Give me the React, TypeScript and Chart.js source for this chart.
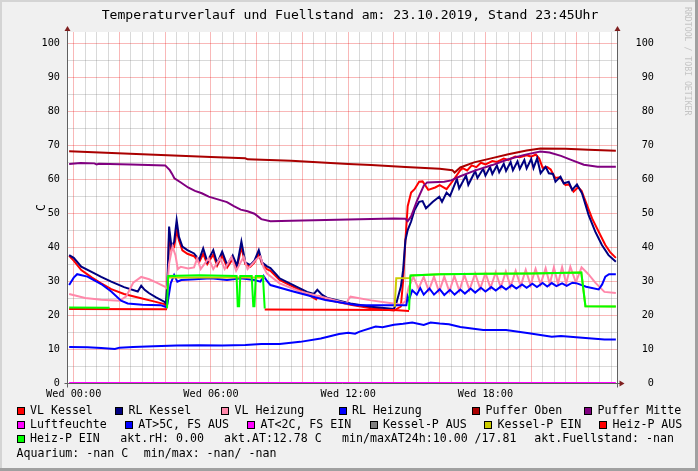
import React, { useEffect, useRef } from "react";
import { Chart, registerables } from "chart.js";

Chart.register(...registerables);

const FONT = "'DejaVu Sans Mono', 'Liberation Mono', monospace";

// ---------- texts ----------
const titleText = "Temperaturverlauf und Fuellstand am: 23.10.2019, Stand 23:45Uhr";
const unitLabel = "C";
const watermarkText = "RRDTOOL / TOBI OETIKER";

// ---------- axes ----------
const X_MIN = -0.25;
const X_MAX = 23.75;
const Y_MIN = 0;
const Y_MAX = 103.24;
const xGridHours = [
  0, 0.5, 1, 1.5, 2, 2.5, 3, 3.5, 4, 4.5, 5, 5.5, 6, 6.5, 7, 7.5, 8, 8.5, 9, 9.5, 10, 10.5, 11, 11.5,
  12, 12.5, 13, 13.5, 14, 14.5, 15, 15.5, 16, 16.5, 17, 17.5, 18, 18.5, 19, 19.5, 20, 20.5, 21, 21.5,
  22, 22.5, 23, 23.5,
];
const xLabelHours = [0, 6, 12, 18];
const xLabelTexts = ["Wed 00:00", "Wed 06:00", "Wed 12:00", "Wed 18:00"];
const yGridValues = [0, 5, 10, 15, 20, 25, 30, 35, 40, 45, 50, 55, 60, 65, 70, 75, 80, 85, 90, 95, 100];
const yLabelValues = [0, 10, 20, 30, 40, 50, 60, 70, 80, 90, 100];

// ---------- series: [hour, value] ----------
const vlKessel = [
  [-0.2, 37.4], [0, 36.0], [0.33, 33.2], [0.8, 31.0], [1.2, 29.3], [1.64, 27.6], [2.2, 26.2], [2.9, 25.0],
  [3.5, 24.0], [3.96, 23.2], [4.05, 22.5], [4.1, 28.0], [4.17, 44.0], [4.27, 39.0], [4.39, 40.0], [4.5, 45.0],
  [4.6, 42.0], [4.75, 39.0], [4.97, 38.0], [5.26, 37.3], [5.48, 35.5], [5.66, 38.0], [5.84, 35.0], [6.1, 37.8],
  [6.27, 34.5], [6.49, 37.5], [6.71, 34.0], [6.95, 36.5], [7.14, 34.0], [7.33, 40.0], [7.5, 35.0], [7.72, 34.2],
  [7.9, 35.5], [8.09, 38.0], [8.23, 35.0], [8.45, 33.5], [8.6, 33.0], [9.0, 30.3], [9.6, 28.3], [10.2, 26.2],
  [10.6, 24.6], [10.7, 25.6], [11.1, 24.5], [12.1, 23.0], [13.0, 22.0], [14.0, 21.3], [14.3, 22.5], [14.4, 30.0],
  [14.5, 42.0], [14.6, 52.0], [14.75, 56.0], [14.9, 57.0], [15.1, 59.2], [15.25, 59.3], [15.5, 56.8], [15.8, 57.5],
  [16.0, 58.2], [16.3, 57.0], [16.6, 59.7], [16.9, 62.6], [17.0, 63.2], [17.2, 62.5], [17.4, 64.0], [17.6, 63.5],
  [17.8, 64.8], [18.0, 64.3], [18.3, 65.3], [18.5, 65.0], [18.8, 66.0], [19.0, 65.6], [19.3, 66.6], [19.5, 66.4],
  [19.8, 67.0], [20.0, 66.6], [20.2, 67.2], [20.35, 66.0], [20.5, 63.3], [20.7, 63.5], [20.85, 62.8], [21.05, 60.3],
  [21.25, 60.5], [21.5, 58.2], [21.65, 58.5], [21.85, 56.3], [22.05, 57.6], [22.2, 56.5], [22.4, 53.0], [22.66, 48.4],
  [22.95, 44.5], [23.24, 40.6], [23.45, 38.5], [23.7, 36.8],
];

const rlKessel = [
  [-0.2, 37.6], [0, 36.8], [0.33, 34.2], [0.8, 32.6], [1.2, 31.2], [1.64, 29.8], [2.2, 28.2], [2.8, 26.9],
  [2.95, 28.6], [3.1, 27.4], [3.3, 26.4], [3.6, 25.2], [3.96, 23.9], [4.03, 23.4], [4.1, 30.3], [4.17, 46.0],
  [4.27, 40.1], [4.39, 41.5], [4.5, 47.9], [4.6, 43.0], [4.75, 40.1], [4.97, 39.1], [5.26, 38.1], [5.48, 36.2],
  [5.66, 39.6], [5.84, 35.7], [6.1, 39.1], [6.27, 35.2], [6.49, 38.6], [6.71, 34.7], [6.95, 37.5], [7.14, 34.5],
  [7.33, 41.6], [7.5, 35.5], [7.72, 34.7], [7.9, 36.0], [8.09, 39.1], [8.23, 35.5], [8.45, 34.3], [8.6, 33.8],
  [9.0, 30.8], [9.6, 28.8], [10.2, 26.8], [10.5, 26.2], [10.65, 27.4], [10.85, 26.0], [11.1, 25.0], [12.1, 23.4],
  [13.0, 22.4], [14.0, 21.8], [14.1, 23.4], [14.3, 28.3], [14.4, 33.2], [14.5, 42.0], [14.6, 45.0], [14.75, 47.5],
  [14.9, 50.9], [15.1, 53.3], [15.25, 53.5], [15.4, 51.4], [15.7, 53.3], [15.98, 54.8], [16.1, 53.3], [16.3, 56.0],
  [16.45, 55.0], [16.75, 60.0], [16.85, 57.2], [17.15, 61.0], [17.25, 58.3], [17.55, 62.3], [17.65, 60.3], [17.9, 63.0],
  [18.0, 61.0], [18.2, 63.5], [18.3, 61.5], [18.5, 64.0], [18.6, 62.0], [18.8, 64.5], [18.9, 62.4], [19.1, 65.0],
  [19.2, 62.6], [19.4, 65.2], [19.5, 63.0], [19.7, 65.6], [19.8, 63.1], [20.0, 65.9], [20.1, 63.2], [20.26, 66.1],
  [20.41, 61.7], [20.63, 63.6], [20.77, 61.7], [20.95, 61.5], [21.06, 59.2], [21.28, 60.7], [21.42, 58.7], [21.64, 59.2],
  [21.79, 56.8], [22.0, 58.4], [22.22, 55.8], [22.51, 49.4], [22.8, 44.5], [23.09, 40.6], [23.38, 37.6], [23.7, 35.7],
];

const vlHeizung = [
  [-0.2, 26.2], [0.5, 25.0], [1.2, 24.5], [2.0, 24.2], [2.3, 25.5], [2.6, 29.5], [2.95, 31.2], [3.3, 30.5],
  [3.6, 29.6], [4.0, 28.3], [4.08, 27.8], [4.17, 35.2], [4.32, 40.1], [4.45, 37.5], [4.55, 33.5], [4.68, 34.2],
  [5.0, 33.7], [5.26, 34.0], [5.4, 36.7], [5.55, 33.5], [5.9, 36.7], [6.1, 33.5], [6.4, 36.7], [6.6, 33.5],
  [6.9, 37.0], [7.1, 33.0], [7.43, 37.1], [7.6, 33.5], [8.0, 36.5], [8.16, 37.2], [8.3, 34.0], [8.45, 32.2],
  [9.0, 29.3], [9.9, 26.9], [11.07, 24.9], [11.94, 23.4], [12.0, 24.5], [12.1, 25.4], [13.0, 24.3], [13.97, 23.4],
  [14.3, 23.0], [14.5, 24.0], [14.65, 28.3], [14.85, 31.2], [15.07, 27.8], [15.3, 31.2], [15.52, 27.2], [15.75, 31.3],
  [15.97, 26.8], [16.2, 31.3], [16.42, 26.9], [16.64, 31.5], [16.86, 27.1], [17.08, 31.8], [17.3, 27.4], [17.55, 32.2],
  [17.77, 27.7], [18.0, 32.4], [18.22, 27.9], [18.45, 32.6], [18.67, 28.1], [18.89, 32.8], [19.1, 28.3], [19.32, 33.0],
  [19.54, 28.5], [19.76, 33.3], [19.97, 28.8], [20.19, 33.6], [20.41, 29.0], [20.63, 33.8], [20.81, 29.1], [20.99, 34.0],
  [21.17, 29.2], [21.35, 34.1], [21.53, 29.3], [21.71, 34.2], [21.95, 29.6], [22.2, 34.0], [22.5, 32.0], [22.8, 29.5],
  [23.2, 26.8], [23.7, 26.5],
];

const rlHeizung = [
  [-0.2, 28.8], [0.0, 31.0], [0.15, 32.0], [0.6, 31.3], [1.2, 29.1], [1.64, 26.9], [2.07, 24.2], [2.36, 23.4],
  [3.0, 23.0], [3.8, 22.9], [4.05, 22.3], [4.1, 23.4], [4.24, 29.3], [4.39, 31.8], [4.53, 29.8], [4.7, 30.3],
  [5.3, 30.5], [6.0, 30.8], [6.7, 30.3], [7.3, 30.8], [7.9, 30.3], [8.16, 29.8], [8.3, 31.5], [8.45, 30.0],
  [8.6, 28.8], [9.6, 26.9], [11.0, 24.4], [12.4, 22.9], [13.97, 22.9], [14.54, 22.9], [14.6, 25.4], [14.65, 24.4],
  [14.8, 27.3], [15.0, 26.0], [15.15, 27.9], [15.3, 26.0], [15.55, 27.8], [15.75, 26.0], [16.0, 27.6], [16.2, 25.9],
  [16.45, 27.4], [16.65, 26.0], [16.9, 27.5], [17.1, 26.3], [17.35, 27.8], [17.55, 26.6], [17.8, 28.0], [18.0, 26.9],
  [18.25, 28.2], [18.45, 27.2], [18.7, 28.5], [18.9, 27.5], [19.15, 28.8], [19.35, 27.8], [19.6, 29.0], [19.8, 28.0],
  [20.05, 29.2], [20.25, 28.2], [20.5, 29.4], [20.7, 28.4], [20.9, 29.4], [21.1, 28.5], [21.35, 29.3], [21.55, 28.6],
  [21.8, 29.5], [22.0, 29.3], [22.4, 28.3], [22.95, 27.5], [23.1, 29.0], [23.24, 31.3], [23.4, 32.0], [23.7, 32.0],
];

const pufferOben = [
  [-0.2, 68.2], [3, 67.3], [6, 66.5], [7.5, 66.1], [7.6, 65.8], [9.5, 65.4], [12, 64.4], [13, 64.1],
  [14.5, 63.5], [16.0, 63.0], [16.55, 62.6], [16.65, 61.9], [16.9, 63.4], [17.5, 64.9], [18.2, 66.0], [19.0, 67.3],
  [19.8, 68.4], [20.4, 69.0], [21.5, 68.9], [22.5, 68.6], [23.7, 68.3],
];

const pufferMitte = [
  [-0.2, 64.4], [0.3, 64.7], [0.9, 64.6], [1.0, 64.3], [1.1, 64.5], [2.5, 64.3], [4.0, 64.0], [4.2, 62.6],
  [4.3, 61.5], [4.4, 60.2], [4.7, 58.9], [5.0, 57.5], [5.3, 56.5], [5.6, 55.8], [5.9, 54.8], [6.3, 54.0],
  [6.7, 53.2], [7.0, 52.0], [7.3, 51.0], [7.6, 50.5], [7.9, 49.8], [8.2, 48.2], [8.6, 47.6], [10, 47.8],
  [12, 48.1], [14.0, 48.4], [14.5, 48.3], [14.6, 47.6], [14.75, 49.0], [15.0, 53.5], [15.3, 58.0], [15.45, 59.0],
  [16.2, 59.2], [16.5, 59.6], [16.9, 60.8], [17.5, 62.4], [18.3, 64.1], [19.0, 65.8], [19.7, 67.1], [20.4, 68.1],
  [20.8, 67.8], [21.3, 66.8], [21.8, 65.5], [22.3, 64.2], [22.9, 63.6], [23.7, 63.6],
];

const luftfeuchte = [[-0.2, 0], [23.7, 0]];

const atWarm = [
  [-0.2, 10.6], [0.6, 10.5], [1.2, 10.3], [1.8, 10.0], [2.0, 10.4], [2.6, 10.6], [3.5, 10.8], [4.5, 11.0],
  [5.5, 11.1], [6.5, 11.0], [7.5, 11.2], [8.2, 11.5], [9.0, 11.5], [9.9, 12.1], [10.8, 13.1], [11.6, 14.4],
  [12.0, 14.8], [12.3, 14.5], [12.5, 15.1], [13.2, 16.6], [13.5, 16.4], [14.0, 17.1], [14.4, 17.4], [14.8, 17.8],
  [15.3, 17.1], [15.6, 17.8], [16.0, 17.5], [16.4, 17.3], [16.9, 16.5], [17.9, 15.6], [18.9, 15.6], [19.9, 14.6],
  [20.9, 13.6], [21.3, 13.8], [22.1, 13.4], [23.2, 12.8], [23.7, 12.8],
];

const atCold: number[][] = [];
const kesselPAus: number[][] = [];

const kesselPEin = [
  [4.08, 31.0], [8.35, 31.0], [8.36, null], [14.03, 22.4], [14.1, 30.8], [14.68, 30.9], [14.75, 31.6],
  [16, 32.0], [18, 32.1], [20, 32.2], [22.19, 32.5], [22.37, 22.6], [23.7, 22.5],
];

const heizPAus = [[-0.2, 21.8], [4.08, 21.7], [4.09, null], [8.35, 21.6], [14.0, 21.5], [14.66, 21.2]];

const heizPEin = [
  [-0.2, 22.2], [1.57, 22.1], [1.6, null], [4.08, 22.0], [4.13, 31.5], [5.5, 31.7], [7.12, 31.5], [7.17, 22.6],
  [7.23, 22.6], [7.28, 31.5], [7.78, 31.5], [7.85, 22.6], [7.9, 22.6], [7.96, 31.5], [8.27, 31.5], [8.35, 21.9],
  [8.4, null], [14.66, 21.5], [14.72, 31.6], [16, 32.0], [18, 32.1], [20, 32.2], [22.19, 32.5], [22.37, 22.6],
  [23.7, 22.5],
];

// ---------- legend / series catalogue ----------
const seriesNames = [
  "VL Kessel", "RL Kessel", "VL Heizung", "RL Heizung", "Puffer Oben", "Puffer Mitte",
  "Luftfeuchte", "AT>5C, FS AUS", "AT<2C, FS EIN", "Kessel-P AUS", "Kessel-P EIN", "Heiz-P AUS", "Heiz-P EIN",
];
const seriesColors = [
  "#ff0000", "#000080", "#ff88aa", "#0000ff", "#aa0000", "#800080",
  "#ff00ff", "#0000ff", "#ff00ff", "#808080", "#cccc00", "#ff0000", "#00ff00",
];
const seriesData = [
  vlKessel, rlKessel, vlHeizung, rlHeizung, pufferOben, pufferMitte,
  luftfeuchte, atWarm, atCold, kesselPAus, kesselPEin, heizPAus, heizPEin,
];

const infoRow3 = ["akt.rH: 0.00", "akt.AT:12.78 C", "min/maxAT24h:10.00 /17.81", "akt.Fuellstand: -nan"];
const infoRow4 = ["Aquarium: -nan C", "min/max: -nan/ -nan"];

const rrdPlugin = {
  id: "rrdDecor",
  beforeDraw(chart: any) {
    const { ctx, width, height, chartArea: a } = chart;
    ctx.save();
    ctx.fillStyle = "#f0f0f0";
    ctx.fillRect(0, 0, width, height);
    ctx.fillStyle = "#d4d4d4";
    ctx.fillRect(0, 0, width, 2);
    ctx.fillRect(0, 0, 2, height);
    ctx.fillStyle = "#a0a0a0";
    ctx.fillRect(0, height - 3, width, 3);
    ctx.fillRect(width - 3, 0, 3, height);
    ctx.fillStyle = "#ffffff";
    ctx.fillRect(a.left, a.top, a.right - a.left, a.bottom - a.top);
    ctx.restore();
  },
  beforeDatasetsDraw(chart: any) {
    const { ctx, chartArea: a } = chart;
    ctx.save();
    ctx.strokeStyle = "#606060";
    ctx.lineWidth = 1;
    const lx = Math.round(a.left) - 0.5;
    const rx = Math.round(a.right) + 0.5;
    const by = Math.round(a.bottom) + 0.5;
    ctx.beginPath();
    ctx.moveTo(lx, by + 4);
    ctx.lineTo(lx, a.top - 2);
    ctx.moveTo(rx, by + 4);
    ctx.lineTo(rx, a.top - 2);
    ctx.moveTo(lx - 3, by);
    ctx.lineTo(rx + 3, by);
    ctx.stroke();
    ctx.fillStyle = "#7f1f1f";
    const arrowUp = (x: number) => {
      ctx.beginPath();
      ctx.moveTo(x - 3, a.top - 1);
      ctx.lineTo(x + 3, a.top - 1);
      ctx.lineTo(x, a.top - 6);
      ctx.closePath();
      ctx.fill();
    };
    arrowUp(lx);
    arrowUp(rx);
    ctx.beginPath();
    ctx.moveTo(rx + 2, by - 3);
    ctx.lineTo(rx + 2, by + 3);
    ctx.lineTo(rx + 7, by);
    ctx.closePath();
    ctx.fill();
    ctx.restore();
  },
  afterDraw(chart: any) {
    const { ctx, width, chartArea: a } = chart;
    ctx.save();
    ctx.fillStyle = "#000000";
    // title
    ctx.font = `13.1px ${FONT}`;
    ctx.textAlign = "center";
    ctx.textBaseline = "middle";
    ctx.fillText(titleText, width / 2 + 1, 16);
    // unit label
    ctx.save();
    ctx.font = `11.6px ${FONT}`;
    ctx.translate(42, (a.top + a.bottom) / 2);
    ctx.rotate(-Math.PI / 2);
    ctx.fillText(unitLabel, 0, 0);
    ctx.restore();
    // watermark
    ctx.save();
    ctx.font = `8.2px ${FONT}`;
    ctx.fillStyle = "#c4c4c4";
    ctx.translate(687, 7);
    ctx.rotate(Math.PI / 2);
    ctx.textAlign = "left";
    ctx.fillText(watermarkText, 0, 0);
    ctx.restore();
    // legend
    ctx.font = `11.6px ${FONT}`;
    ctx.textAlign = "left";
    ctx.textBaseline = "middle";
    const rowY = [411, 425, 439.3, 453.5];
    const swatchX = [
      [16.5, 115, 221, 338.5, 472, 584],
      [16.5, 124.7, 247, 369.5, 484, 599],
      [16.5],
    ];
    let k = 0;
    swatchX.forEach((xs, r) => {
      xs.forEach((sx) => {
        const y = rowY[r];
        ctx.fillStyle = seriesColors[k];
        ctx.fillRect(Math.round(sx), Math.round(y - 4), 8, 8);
        ctx.strokeStyle = "#000000";
        ctx.lineWidth = 1;
        ctx.strokeRect(Math.round(sx) + 0.5, Math.round(y - 4) + 0.5, 7, 7);
        ctx.fillStyle = "#000000";
        ctx.fillText(seriesNames[k], sx + 13.5, y);
        k++;
      });
    });
    const info3X = [120.2, 224, 342, 534.3];
    infoRow3.forEach((t, i) => ctx.fillText(t, info3X[i], rowY[2]));
    const info4X = [16.5, 143.8];
    infoRow4.forEach((t, i) => ctx.fillText(t, info4X[i], rowY[3]));
    ctx.restore();
  },
};

export default function App() {
  const ref = useRef<HTMLCanvasElement>(null);
  useEffect(() => {
    document.body.style.margin = "0";
    document.body.style.overflow = "hidden";
    const n = seriesNames.length;
    const datasets = seriesNames.map((name, i) => ({
      label: name,
      data: (seriesData[i] as any[]).map(([x, y]) => ({ x, y })),
      borderColor: seriesColors[i],
      backgroundColor: seriesColors[i],
      borderWidth: 2,
      pointRadius: 0,
      fill: false,
      tension: 0,
      spanGaps: false,
      order: n - 1 - i,
      yAxisID: "y",
      xAxisID: "x",
    }));
    const majorX = "rgba(235,0,0,0.28)";
    const minorX = "rgba(120,120,120,0.28)";
    const chart = new Chart(ref.current as HTMLCanvasElement, {
      type: "line",
      data: { datasets },
      options: {
        animation: false,
        responsive: false,
        devicePixelRatio: 1,
        events: [],
        layout: { padding: { top: 32, left: 0, right: 44, bottom: 0 } },
        plugins: { legend: { display: false }, title: { display: false }, tooltip: { enabled: false } },
        scales: {
          x: {
            type: "linear",
            min: X_MIN,
            max: X_MAX,
            bounds: "data",
            afterBuildTicks: (s: any) => {
              s.ticks = xGridHours.map((v) => ({ value: v }));
            },
            afterFit: (s: any) => {
              s.height = 88;
            },
            grid: {
              drawTicks: false,
              lineWidth: 1,
              color: (c: any) => (c.tick && c.tick.value % 2 === 0 ? majorX : minorX),
            },
            border: { display: false },
            ticks: {
              autoSkip: false,
              maxRotation: 0,
              padding: 5,
              color: "#000000",
              font: { family: FONT, size: 10.2 },
              callback: (v: any) => {
                const i = xLabelHours.indexOf(Number(v));
                return i >= 0 ? xLabelTexts[i] : "";
              },
            },
          },
          y: {
            type: "linear",
            position: "left",
            min: Y_MIN,
            max: Y_MAX,
            bounds: "data",
            afterBuildTicks: (s: any) => {
              s.ticks = yGridValues.map((v) => ({ value: v }));
            },
            afterFit: (s: any) => {
              s.width = 68;
            },
            grid: {
              drawTicks: false,
              lineWidth: 1,
              color: (c: any) => (c.tick && c.tick.value % 10 === 0 ? majorX : minorX),
            },
            border: { display: false },
            ticks: {
              autoSkip: false,
              padding: 8,
              color: "#000000",
              font: { family: FONT, size: 10.2 },
              callback: (v: any) => (yLabelValues.includes(Number(v)) ? String(v) : ""),
            },
          },
          y2: {
            type: "linear",
            position: "right",
            min: Y_MIN,
            max: Y_MAX,
            bounds: "data",
            afterBuildTicks: (s: any) => {
              s.ticks = yLabelValues.map((v) => ({ value: v }));
            },
            afterFit: (s: any) => {
              s.width = 37;
            },
            grid: { display: false, drawTicks: false },
            border: { display: false },
            ticks: {
              autoSkip: false,
              crossAlign: "far",
              padding: 8,
              color: "#000000",
              font: { family: FONT, size: 10.2 },
              callback: (v: any) => String(v),
            },
          },
        },
      } as any,
      plugins: [rrdPlugin],
    });
    return () => chart.destroy();
  }, []);
  return (
    <canvas
      ref={ref}
      width={698}
      height={471}
      style={{ display: "block", width: "698px", height: "471px" }}
    />
  );
}
